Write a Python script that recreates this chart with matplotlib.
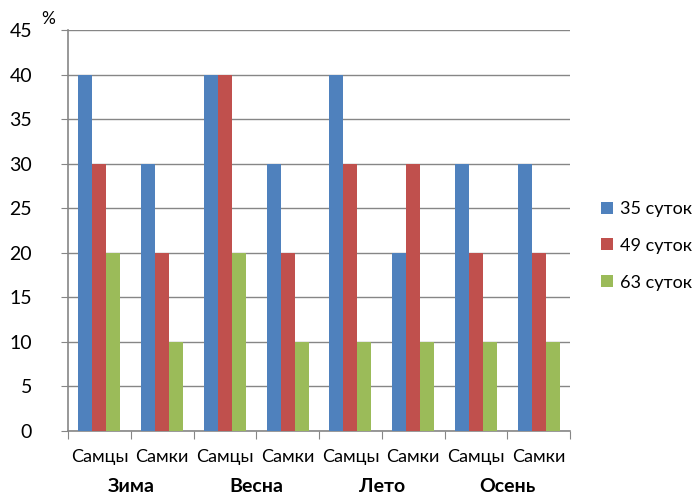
import numpy as np
import matplotlib
matplotlib.use('Agg')
import matplotlib.pyplot as plt

plt.rcParams['font.family'] = ['Lato', 'DejaVu Sans']

sexes = ['Самцы', 'Самки', 'Самцы', 'Самки', 'Самцы', 'Самки', 'Самцы', 'Самки']
seasons = ['Зима', 'Весна', 'Лето', 'Осень']
series_names = ['35 суток', '49 суток', '63 суток']
d35 = [40, 30, 40, 30, 40, 20, 30, 30]
d49 = [30, 20, 40, 20, 30, 30, 20, 20]
d63 = [20, 10, 20, 10, 10, 10, 10, 10]
colors = ['#4F81BD', '#C0504D', '#9BBB59']

fig = plt.figure(figsize=(6.97, 4.97), dpi=100)
ax = fig.add_axes([0.0976, 0.1328, 0.7204, 0.8068])

x = np.arange(len(sexes))
width = 0.223
for i, (vals, name) in enumerate(zip([d35, d49, d63], series_names)):
    ax.bar(x + (i - 1) * width, vals, width, color=colors[i], label=name, zorder=3)

grid_c = '#868686'
ax.set_ylim(0, 45)
ax.set_yticks(range(0, 46, 5))
ax.set_xlim(-0.5, len(sexes) - 0.5)
ax.grid(axis='y', color=grid_c, linewidth=1, zorder=0)
for s in ['top', 'right']:
    ax.spines[s].set_visible(False)
for s in ['left', 'bottom']:
    ax.spines[s].set_color(grid_c)
    ax.spines[s].set_linewidth(1.2)

ax.tick_params(axis='y', labelsize=14, length=5, color=grid_c, pad=21)
ax.set_xticks(np.arange(-0.5, len(sexes), 1))
ax.set_xticklabels([])
ax.tick_params(axis='x', length=6, color=grid_c)
ax.set_xticks(x, minor=True)
ax.set_xticklabels(sexes, minor=True, fontsize=13)
ax.tick_params(axis='x', which='minor', length=0, pad=13)

for k, season in enumerate(seasons):
    ax.text(2 * k + 0.5, -0.138, season, transform=ax.get_xaxis_transform(),
            ha='center', va='center', fontsize=14, fontweight='bold')

ax.text(-0.04, 1.028, '%', transform=ax.transAxes, ha='center', va='center', fontsize=12.5)

leg = ax.legend(loc='center left', bbox_to_anchor=(1.03, 0.462), frameon=False,
                fontsize=13, handlelength=0.65, handleheight=0.65,
                handletextpad=0.35, labelspacing=1.15)

fig.savefig('out.png', dpi=100)
